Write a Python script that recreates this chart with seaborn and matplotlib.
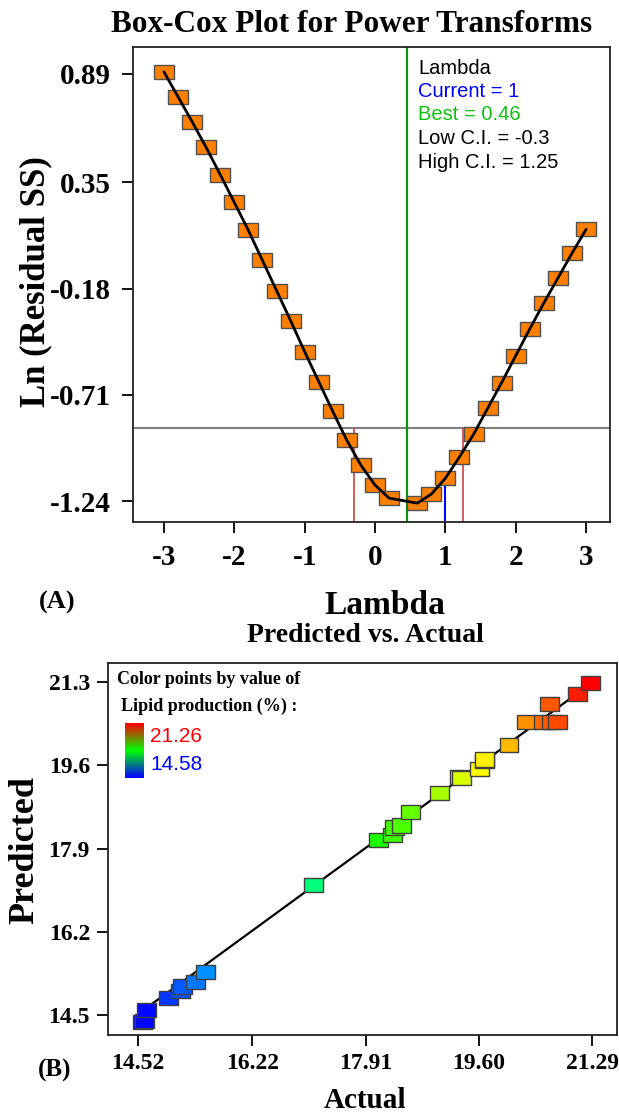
import numpy as np
import pandas as pd
import matplotlib
matplotlib.use("Agg")
import matplotlib.pyplot as plt
import seaborn as sns
from matplotlib.colors import LinearSegmentedColormap, Normalize

# ---------------- data: Box-Cox panel ----------------
lam = [-3.0, -2.8, -2.6, -2.4, -2.2, -2.0, -1.8, -1.6, -1.4, -1.2, -1.0, -0.8,
       -0.6, -0.4, -0.2, 0.0, 0.2, 0.6, 0.8, 1.0, 1.2, 1.4, 1.6, 1.8, 2.0,
       2.2, 2.4, 2.6, 2.8, 3.0]
ln_rss = [0.90, 0.776, 0.652, 0.523, 0.388, 0.249, 0.110, -0.04, -0.19, -0.34,
          -0.495, -0.644, -0.793, -0.937, -1.061, -1.16, -1.225, -1.25, -1.205,
          -1.126, -1.02, -0.907, -0.778, -0.649, -0.515, -0.381, -0.252,
          -0.128, -0.004, 0.115]
best_lambda = 0.46
current_lambda = 1.0
low_ci = -0.3
high_ci = 1.25
ci_level = -0.874
current_level = -1.16
lambda_ticks = [-3, -2, -1, 0, 1, 2, 3]
ln_ticks = [0.89, 0.35, -0.18, -0.71, -1.24]
ln_tick_labels = ["0.89", "0.35", "-0.18", "-0.71", "-1.24"]
legend_lines = ["Lambda", "Current = 1", "Best = 0.46", "Low C.I. = -0.3", "High C.I. = 1.25"]

# ---------------- data: Predicted vs Actual ----------------
actual = [14.58, 14.61, 14.64, 14.97, 15.15, 15.18, 15.38, 15.52, 17.13,
          18.10, 18.31, 18.34, 18.44, 18.58, 19.01, 19.31, 19.34, 19.61,
          19.68, 19.68, 20.05, 20.31, 20.57, 20.68, 20.77, 20.66, 21.07, 21.26]
predicted = [14.36, 14.38, 14.60, 14.85, 14.99, 15.08, 15.18, 15.38, 17.15,
             18.07, 18.17, 18.33, 18.37, 18.64, 19.03, 19.36, 19.34, 19.52,
             19.68, 19.72, 20.01, 20.48, 20.48, 20.48, 20.48, 20.85, 21.06, 21.28]
actual_ticks = [14.52, 16.22, 17.91, 19.60, 21.29]
actual_tick_labels = ["14.52", "16.22", "17.91", "19.60", "21.29"]
pred_ticks = [14.5, 16.2, 17.9, 19.6, 21.3]
pred_tick_labels = ["14.5", "16.2", "17.9", "19.6", "21.3"]
color_min = 14.58
color_max = 21.26

# ---------------- style ----------------
sns.set_style("ticks")
plt.rcParams['font.family'] = ['Liberation Serif', 'DejaVu Serif']
plt.rcParams['axes.linewidth'] = 1.3
plt.rcParams['text.color'] = 'black'
plt.rcParams['xtick.color'] = 'black'
plt.rcParams['ytick.color'] = 'black'
plt.rcParams['axes.edgecolor'] = 'black'

W, H = 619, 1117
fig = plt.figure(figsize=(W / 100, H / 100), dpi=100)

def fx(px):
    return px / W

def fy(py):
    return 1 - py / H

rect = [(-1, -0.75), (1, -0.75), (1, 0.75), (-1, 0.75), (-1, -0.75)]
serif_bold = dict(family='Liberation Serif', weight='bold', color='black')
sans = ['Liberation Sans', 'DejaVu Sans']

# ================= Panel A =================
axA = fig.add_axes([fx(133), fy(522), fx(610) - fx(133), fy(47) - fy(522)])
dfA = pd.DataFrame({"lam": lam, "ln": ln_rss})
axA.axhline(ci_level, color='#7f7f7f', lw=1.5, zorder=1)
axA.axvline(best_lambda, color='#109010', lw=1.6, zorder=1)
ylo, yhi = -1.344, 1.024
axA.vlines([low_ci, high_ci], ylo, ci_level, color='#d05050', lw=1.3, zorder=1)
axA.vlines([current_lambda], ylo, current_level, color='#0000ff', lw=1.5, zorder=1)
sns.scatterplot(data=dfA, x="lam", y="ln", ax=axA, marker=rect, s=190,
                color='#ff8000', edgecolor='#505050', linewidth=1.0, zorder=3)
sns.lineplot(data=dfA, x="lam", y="ln", ax=axA, color='black', lw=2.0,
             zorder=4, estimator=None, sort=True)
axA.set_xlim(-3.44, 3.34)
axA.set_ylim(ylo, yhi)
axA.set_xticks(lambda_ticks)
axA.set_xticklabels([str(t) for t in lambda_ticks])
axA.set_yticks(ln_ticks)
axA.set_yticklabels(ln_tick_labels)
axA.tick_params(direction='out', length=8, width=1.3, labelsize=21, colors='black')
axA.tick_params(axis='y', pad=8)
axA.tick_params(axis='x', pad=8)
for lab in axA.get_xticklabels() + axA.get_yticklabels():
    lab.set_fontweight('bold')
axA.set_xlabel("")
axA.set_ylabel("")
for s in axA.spines.values():
    s.set_visible(True)
    s.set_color('#222222')

fig.text(fx(352), fy(24), "Box-Cox Plot for Power Transforms", ha='center', va='center',
         fontsize=22.5, **serif_bold)
fig.text(fx(36), fy(282), "Ln (Residual SS)", ha='center', va='center', rotation=90,
         fontsize=25, **serif_bold)
fig.text(fx(385), fy(606), "Lambda", ha='center', va='center', fontsize=24, **serif_bold)
fig.text(fx(57), fy(602), "(A)", ha='center', va='center', fontsize=19, **serif_bold)

leg_colors = ['black', '#0000ff', '#10c010', 'black', 'black']
for i, (t, c) in enumerate(zip(legend_lines, leg_colors)):
    fig.text(fx(418), fy(68 + i * 23.5), t, ha='left', va='center', color=c,
             fontsize=14.5, family=sans)

# ================= Panel B =================
axB = fig.add_axes([fx(108), fy(1035), fx(617) - fx(108), fy(663) - fy(1035)])
cmap = LinearSegmentedColormap.from_list(
    "de", [(0, 0, 1), (0, 1, 1), (0, 1, 0), (1, 1, 0), (1, 0, 0)])
dfB = pd.DataFrame({"actual": actual, "predicted": predicted})
diag = pd.DataFrame({"x": [min(actual), max(actual)], "y": [min(actual), max(actual)]})
sns.lineplot(data=diag, x="x", y="y", ax=axB, color='black', lw=1.6, zorder=1)
sns.scatterplot(data=dfB, x="actual", y="predicted", hue="actual", palette=cmap,
                hue_norm=Normalize(color_min, color_max), legend=False, ax=axB,
                marker=rect, s=185, edgecolor='#404040', linewidth=1.0, zorder=3)
axB.set_xlim(14.07, 21.66)
axB.set_ylim(14.09, 21.69)
axB.set_xticks(actual_ticks)
axB.set_xticklabels(actual_tick_labels)
axB.set_yticks(pred_ticks)
axB.set_yticklabels(pred_tick_labels)
axB.tick_params(direction='out', length=8, width=1.3, labelsize=17, pad=5, colors='black')
for lab in axB.get_xticklabels() + axB.get_yticklabels():
    lab.set_fontweight('bold')
axB.set_xlabel("")
axB.set_ylabel("")
for s in axB.spines.values():
    s.set_visible(True)
    s.set_color('#222222')

fig.text(fx(365), fy(636), "Predicted vs. Actual", ha='center', va='center',
         fontsize=20, **serif_bold)
fig.text(fx(25), fy(850), "Predicted", ha='center', va='center', rotation=90,
         fontsize=26, **serif_bold)
fig.text(fx(365), fy(1101), "Actual", ha='center', va='center', fontsize=21, **serif_bold)
fig.text(fx(55), fy(1070), "(B)", ha='center', va='center', fontsize=18, **serif_bold)

fig.text(fx(117), fy(680), "Color points by value of", ha='left', va='center',
         fontsize=13, **serif_bold)
fig.text(fx(121), fy(706), "Lipid production (%) :", ha='left', va='center',
         fontsize=13, **serif_bold)

axC = fig.add_axes([fx(125), fy(778), fx(144) - fx(125), fy(723) - fy(778)])
bar_cmap = LinearSegmentedColormap.from_list("bar", [(0, 0, 1), (0, 1, 0), (1, 0, 0)])
grad = np.linspace(1, 0, 100).reshape(-1, 1)
axC.imshow(grad, aspect='auto', cmap=bar_cmap)
axC.set_axis_off()
fig.text(fx(150), fy(737), f"{color_max:.2f}", ha='left', va='center', color='#ff0000',
         fontsize=15, family=sans)
fig.text(fx(150), fy(765), f"{color_min:.2f}", ha='left', va='center', color='#0000ff',
         fontsize=15, family=sans)

fig.savefig("out.png", dpi=100)
